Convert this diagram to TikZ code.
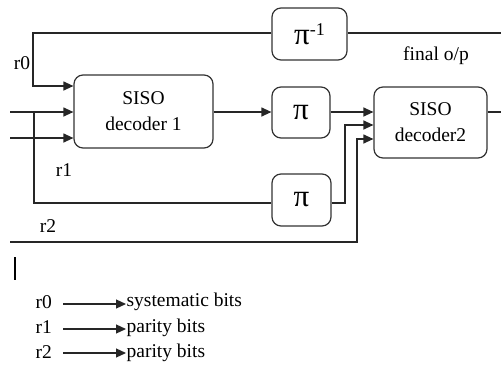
\documentclass[tikz,border=0pt]{standalone}
\usepackage{fontspec}
\setmainfont{Liberation Serif}
\newfontfamily\tnr{Liberation Serif}
\usetikzlibrary{arrows.meta}
\begin{document}
\begin{tikzpicture}[x=1pt,y=-1pt,
  line width=1.2pt,
  box/.style={draw=black!80, rounded corners=9pt, inner sep=0pt, align=center,
    font=\tnr\fontsize{19.5}{26}\selectfont},
  pibox/.style={box, font=\tnr\fontsize{31}{32}\selectfont},
  lbl/.style={inner sep=0pt, font=\tnr\fontsize{19.5}{22}\selectfont},
  arr/.style={-{Triangle[length=10pt,width=9pt]}},
  wire/.style={draw=black!85}]
\useasboundingbox (0,0) rectangle (501,367);

% blocks
\node[box, minimum width=139pt, minimum height=73pt] (dec1) at (143.5,111.5) {SISO\\decoder 1};
\node[pibox, minimum width=75pt, minimum height=52pt] (pinv) at (309.5,34) {π\raisebox{0.3em}{\fontsize{18}{18}\selectfont -1}};
\node[pibox, minimum width=58pt, minimum height=51pt] (pi1) at (301,112.5) {π};
\node[pibox, minimum width=59pt, minimum height=52pt] (pi2) at (301.5,200) {π};
\node[box, minimum width=113pt, minimum height=71pt] (dec2) at (430.5,122.5) {SISO\\decoder2};

% wire end points
\coordinate (in1) at (10,112);
\coordinate (in2) at (10,138);
\coordinate (in3) at (10,242);
\coordinate (tap) at (34,112);
\coordinate (out1) at (501,33);
\coordinate (out2) at (501,112);

% r0 feedback through the inverse interleaver
\draw[wire] (out1) -- (pinv.east |- out1);
\draw[wire, arr] (pinv.west |- out1) -- (33,33) -- (33,86) -- (dec1.west |- 0,86);

% channel inputs to decoder 1
\draw[wire, arr] (in1) -- (dec1.west |- in1);
\draw[wire, arr] (in2) -- (dec1.west |- in2);

% r1 branch to the lower interleaver
\draw[wire] (tap) -- (34,203) -- (pi2.west |- 0,203);

% decoder 1 -> interleaver -> decoder 2
\draw[wire, arr] (dec1.east |- 0,112) -- (pi1.west |- 0,112);
\draw[wire, arr] (pi1.east |- 0,112) -- (dec2.west |- 0,112);
\draw[wire, arr] (pi2.east |- 0,203) -- (345,203) -- (345,125) -- (dec2.west |- 0,125);
\draw[wire, arr] (in3) -- (357,242) -- (357,139) -- (dec2.west |- 0,139);
\draw[wire] (dec2.east |- out2) -- (out2);

% signal labels
\node[lbl] (r0) at (22,63) {r0};
\node[lbl] (r1) at (64,170) {r1};
\node[lbl] (r2) at (48,226) {r2};
\node[lbl] (fo) at (436,56) {final o/p};

% cursor bar
\draw[line width=2pt] (15,257) -- (15,280);

% legend
\node[lbl, anchor=west] (k0) at (35,302) {r0};
\node[lbl, anchor=west] (k1) at (35,327) {r1};
\node[lbl, anchor=west] (k2) at (35,352) {r2};
\node[lbl, anchor=west] (d0) at (126,302) {systematic bits};
\node[lbl, anchor=west] (d1) at (126,328) {parity bits};
\node[lbl, anchor=west] (d2) at (126,353) {parity bits};
\draw[wire, arr] (63,304) -- (d0.west |- 0,304);
\draw[wire, arr] (63,329) -- (d1.west |- 0,329);
\draw[wire, arr] (63,353) -- (d2.west |- 0,353);
\end{tikzpicture}
\end{document}
